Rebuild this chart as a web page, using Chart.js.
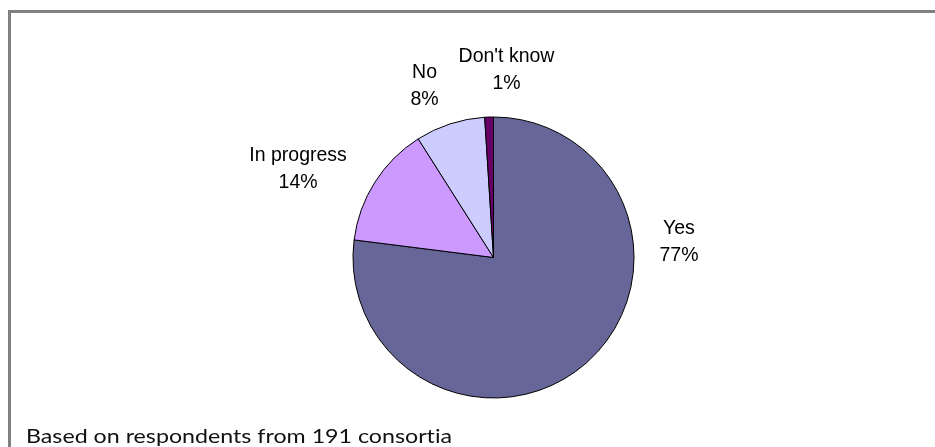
<!DOCTYPE html>
<html>
<head>
<meta charset="utf-8">
<script src="https://cdn.jsdelivr.net/npm/chart.js@4/dist/chart.umd.min.js"></script>
<style>
    html, body { margin: 0; padding: 0; background: #ffffff; overflow: hidden; }
    #wrap { position: relative; width: 935px; height: 447px; }
    #frame {
        position: absolute; left: 8px; top: 10px; width: 940px; height: 450px;
        border-top: 3px solid #808080; border-left: 3px solid #808080;
    }
    #chart { position: absolute; left: 0; top: 0; }
    #note {
        position: absolute; left: 26px; top: 425px;
        font-family: Lato, "Open Sans", sans-serif; font-size: 20px; color: #111;
        font-variant-ligatures: none; line-height: 1;
        white-space: nowrap; transform-origin: 0 0;
    }
</style>
</head>
<body>
<div id="wrap">
    <div id="frame"></div>
    <canvas id="chart" width="935" height="447"></canvas>
    <div id="note">Based on respondents from 191 consortia</div>
</div>
<script>
const categories = ['Yes', 'In progress', 'No', "Don't know"];
const shares = [77, 14, 8, 1];
const sliceColors = ['#666699', '#CC99FF', '#CCCCFF', '#660066'];

// where each label sits, measured from the pie centre in units of the radius
const labelOffsets = [[1.32, -0.107], [-1.391, -0.626], [-0.491, -1.221], [0.0925, -1.335]];

const sliceLabels = {
    id: 'sliceLabels',
    afterDatasetsDraw(chart) {
        const ctx = chart.ctx;
        const arcs = chart.getDatasetMeta(0).data;
        ctx.save();
        ctx.font = '19.5px "Liberation Sans", Arial, sans-serif';
        ctx.fillStyle = '#000000';
        ctx.textAlign = 'center';
        ctx.textBaseline = 'middle';
        arcs.forEach((arc, i) => {
            const r = arc.outerRadius;
            const x = arc.x + labelOffsets[i][0] * r;
            const y = arc.y + labelOffsets[i][1] * r;
            ctx.fillText(categories[i], x, y - 13.5);
            ctx.fillText(shares[i] + '%', x, y + 13.5);
        });
        ctx.restore();
    }
};

new Chart(document.getElementById('chart'), {
    type: 'pie',
    data: {
        labels: categories,
        datasets: [{
            data: shares,
            backgroundColor: sliceColors,
            borderColor: '#000000',
            borderWidth: 1,
            hoverOffset: 0,
            offset: 0
        }]
    },
    options: {
        responsive: false,
        animation: false,
        events: [],
        layout: {
            padding: { top: 116.5, bottom: 48.5, left: 352.5, right: 300.5 }
        },
        plugins: {
            legend: { display: false },
            tooltip: { enabled: false },
            title: { display: false }
        }
    },
    plugins: [sliceLabels]
});

// fit the footnote to its width
const note = document.getElementById('note');
const noteWidth = note.getBoundingClientRect().width;
note.style.transform = 'scaleX(' + (426 / noteWidth) + ')';
</script>
</body>
</html>
